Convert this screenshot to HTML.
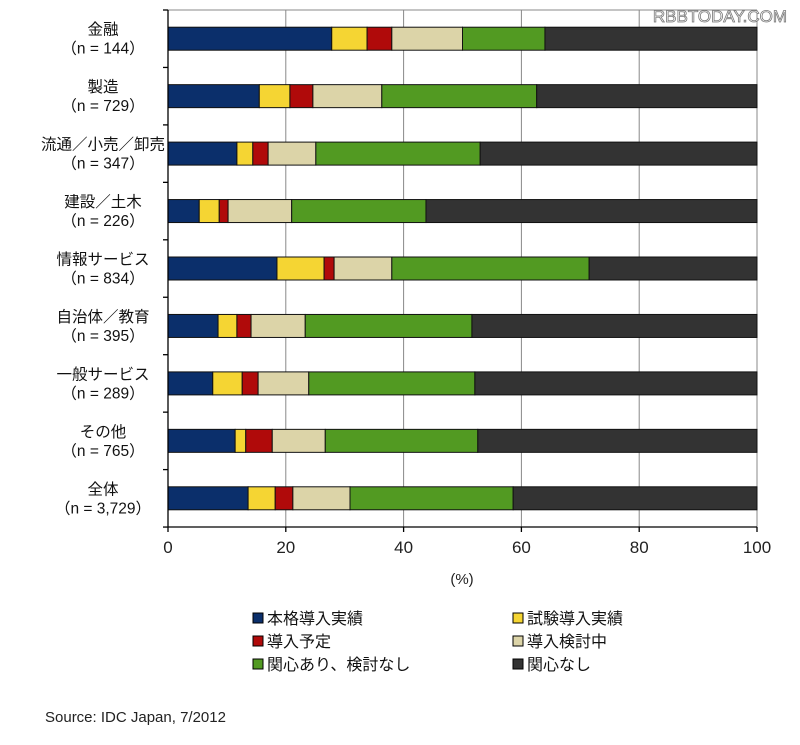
<!DOCTYPE html>
<html><head><meta charset="utf-8"><style>
body{margin:0;background:#fff;width:800px;height:740px;overflow:hidden;font-family:"Liberation Sans","Noto Sans CJK JP",sans-serif}
</style></head><body>
<svg width="800" height="740" xmlns="http://www.w3.org/2000/svg" font-family="Liberation Sans, Noto Sans CJK JP, sans-serif">
<g stroke="#888" stroke-width="1">
<line x1="285.8" y1="10" x2="285.8" y2="527"/><line x1="403.6" y1="10" x2="403.6" y2="527"/>
<line x1="521.4" y1="10" x2="521.4" y2="527"/><line x1="639.2" y1="10" x2="639.2" y2="527"/>
<line x1="757" y1="10" x2="757" y2="527"/><line x1="168" y1="10" x2="757" y2="10"/>
</g>
<g id="bars" stroke="#111" stroke-width="1"></g>
<g stroke="#000" stroke-width="1.3">
<line x1="168" y1="10" x2="168" y2="527"/><line x1="168" y1="527" x2="757" y2="527"/>
</g>
<g id="ticks" stroke="#000" stroke-width="1.3"></g>
<g font-size="17" fill="#222" text-anchor="middle">
<text x="168" y="553">0</text><text x="285.8" y="553">20</text><text x="403.6" y="553">40</text><text x="521.4" y="553">60</text><text x="639.2" y="553">80</text><text x="757" y="553">100</text>
<text x="462" y="584" font-size="15">(%)</text>
</g>
<g id="labels" font-size="15.5" fill="#111" text-anchor="middle"></g>
<g font-size="16" fill="#111">
<rect x="253" y="613" width="10" height="10" fill="#0b2f6b" stroke="#000"/><text x="267" y="624">本格導入実績</text>
<rect x="513" y="613" width="10" height="10" fill="#f5d533" stroke="#000"/><text x="527" y="624">試験導入実績</text>
<rect x="253" y="636" width="10" height="10" fill="#b00a0a" stroke="#000"/><text x="267" y="647">導入予定</text>
<rect x="513" y="636" width="10" height="10" fill="#dcd4a8" stroke="#000"/><text x="527" y="647">導入検討中</text>
<rect x="253" y="659" width="10" height="10" fill="#529a22" stroke="#000"/><text x="267" y="670">関心あり、検討なし</text>
<rect x="513" y="659" width="10" height="10" fill="#333" stroke="#000"/><text x="527" y="670">関心なし</text>
</g>
<text x="45" y="722" font-size="15" fill="#222">Source: IDC Japan, 7/2012</text>
<text x="787" y="22" font-size="17" fill="#fff" stroke="#777" stroke-width="0.8" text-anchor="end">RBBTODAY.COM</text>
</svg>
<script>
var d=[["金融","（n = 144）",27.8,33.8,38,50,64],["製造","（n = 729）",15.5,20.7,24.6,36.3,62.6],["流通／小売／卸売","（n = 347）",11.7,14.4,17,25.1,53],["建設／土木","（n = 226）",5.3,8.7,10.2,21,43.8],["情報サービス","（n = 834）",18.5,26.5,28.2,38,71.5],["自治体／教育","（n = 395）",8.5,11.7,14.1,23.3,51.6],["一般サービス","（n = 289）",7.6,12.6,15.3,23.9,52.1],["その他","（n = 765）",11.4,13.2,17.7,26.7,52.6],["全体","（n = 3,729）",13.6,18.2,21.2,30.9,58.6]];
var c=["#0b2f6b","#f5d533","#b00a0a","#dcd4a8","#529a22","#333333"];
var ns="http://www.w3.org/2000/svg",b=document.getElementById("bars"),t=document.getElementById("ticks"),l=document.getElementById("labels");
function el(p,n,a,tx){var e=document.createElementNS(ns,n);for(var k in a)e.setAttribute(k,a[k]);if(tx)e.textContent=tx;p.appendChild(e);}
for(var i=0;i<9;i++){var cy=10+28.7+57.45*i,v=[0].concat(d[i].slice(2)).concat([100]);
for(var j=0;j<6;j++){var x0=168+5.89*v[j],x1=168+5.89*v[j+1];el(b,"rect",{x:x0,y:cy-11.5,width:x1-x0,height:23,fill:c[j]});}
el(l,"text",{x:103,y:cy-4},d[i][0]);el(l,"text",{x:103,y:cy+15},d[i][1]);}
for(var i=0;i<=9;i++){var y=10+57.45*i;el(t,"line",{x1:163,y1:y,x2:168,y2:y});}
for(var i=0;i<=5;i++){var x=168+117.8*i;el(t,"line",{x1:x,y1:527,x2:x,y2:532});}
</script>
</body></html>
